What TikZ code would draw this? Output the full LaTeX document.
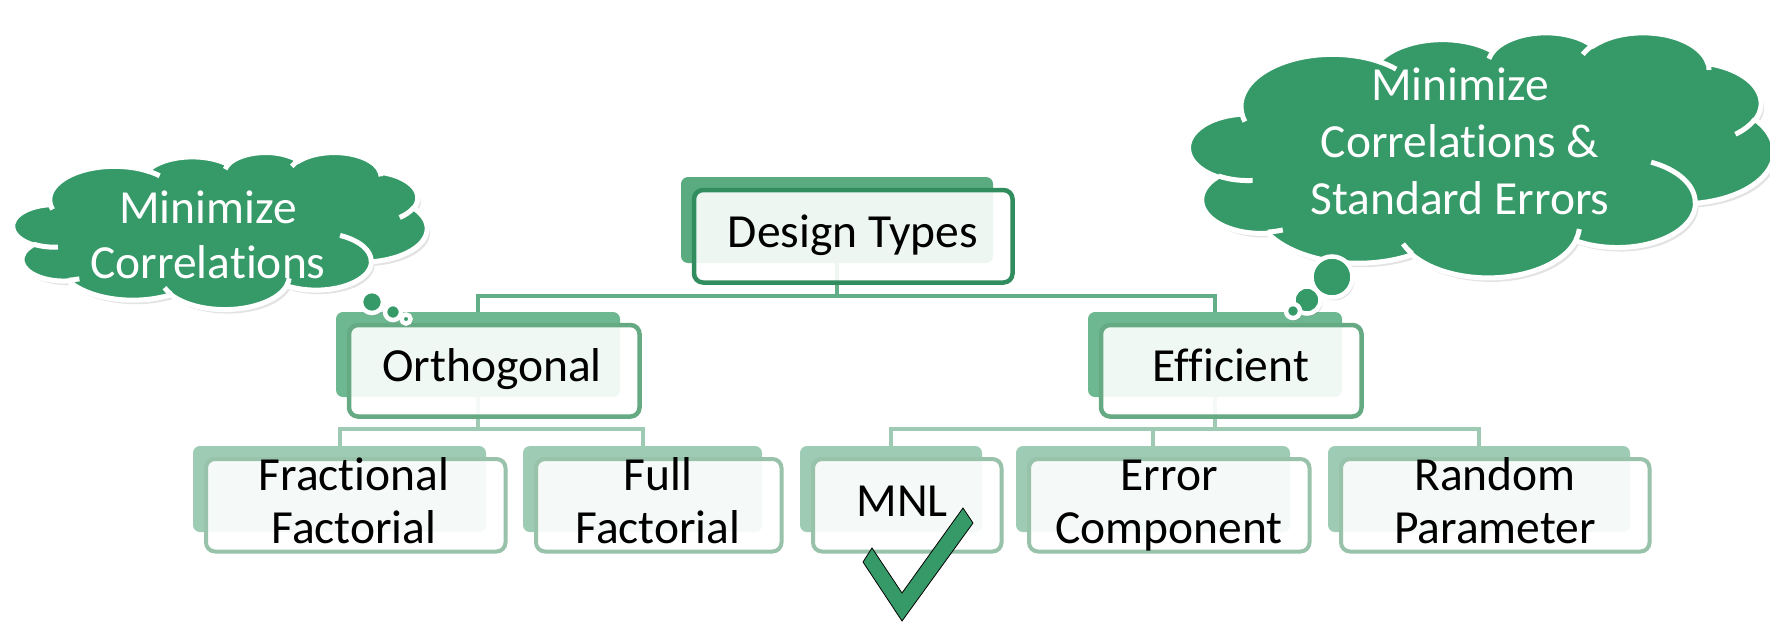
\documentclass[tikz,border=0pt]{standalone}
\usepackage{fontspec}
\setmainfont{Carlito}[Ligatures={NoCommon}]
\usetikzlibrary{shadows}
\definecolor{cgreen}{RGB}{53,154,104}
\definecolor{lback1}{RGB}{90,172,128}
\definecolor{lline1}{RGB}{50,141,94}
\definecolor{lback2}{RGB}{110,184,145}
\definecolor{lline2}{RGB}{102,170,132}
\definecolor{lback3}{RGB}{157,203,180}
\definecolor{lline3}{RGB}{152,194,170}
\definecolor{conna}{RGB}{98,174,134}
\definecolor{connb}{RGB}{158,201,178}
% elliptical arc with DrawingML (visual) angles
\newcommand\cloudarc[4]{arc[x radius=#1, y radius=#2,
  start angle={atan2((#1)*sin(#3),(#2)*cos(#3))},
  delta angle={atan2((#1)*sin((#3)+(#4)),(#2)*cos((#3)+(#4)))-atan2((#1)*sin(#3),(#2)*cos(#3))+360*round(((#4)-(atan2((#1)*sin((#3)+(#4)),(#2)*cos((#3)+(#4)))-atan2((#1)*sin(#3),(#2)*cos(#3))))/360)}]}
\newcommand\drawcloud[4]{%
\begin{scope}[shift={(#1,#2)}, xscale=#3/432, yscale=#4/432]
 \path[cloudbody] (39,143.70)
   \cloudarc{67.53}{91.90}{-190.4875}{123.7805}
   \cloudarc{53.33}{72.67}{-144.1024}{89.9452}
   \cloudarc{43.65}{59.45}{-145.8079}{99.7230}
   \cloudarc{48.57}{65.95}{-130.9861}{117.2417}
   \cloudarc{53.33}{72.73}{-78.7089}{109.0269}
   \cloudarc{67.75}{92.20}{-46.2673}{130.2690}
   \cloudarc{57.85}{78.67}{0.6250}{114.0333}
   \cloudarc{67.52}{92.15}{22.4516}{115.1726}
   \cloudarc{77.20}{105.43}{66.2426}{75.7110}
   \cloudarc{43.60}{59.18}{-274.9421}{146.7356}
   \cloudarc{43.45}{59.45}{-246.8285}{152.5189} -- cycle;
 \draw[cloudline]
   (46.93,261.77) \cloudarc{43.45}{59.45}{86.7420}{26.4295}
   (69.28,348.99) \cloudarc{43.60}{59.18}{73.6105}{11.4475}
   (164.78,390.90) \cloudarc{67.52}{92.15}{137.6242}{14.0811}
   (288.27,347.51) \cloudarc{67.52}{92.15}{6.4533}{15.9984}
   (341.29,229.54) \cloudarc{57.85}{78.67}{-70.2924}{70.9174}
   (417.98,153.54) \cloudarc{53.33}{72.73}{30.3180}{27.7515}
   (383.24,54.26) \cloudarc{48.57}{65.95}{-13.7443}{14.8589}
   (290.78,39.52) \cloudarc{48.57}{65.95}{-149.1815}{18.1954}
   (221.41,47.20) \cloudarc{43.65}{59.45}{-163.4943}{17.6864}
   (140.00,51.92) \cloudarc{67.53}{91.90}{-66.7070}{12.3194}
   (41.27,157.89) \cloudarc{67.53}{91.90}{157.6544}{11.8582};
\end{scope}}
\newcommand\backbox[6]{\node[back#6, minimum width={#4-#2}, minimum height={#5-#3}] (#1) at ({(#2+#4)/2},{(#3+#5)/2}) {};}
\newcommand\frontbox[6]{\node[front#6, minimum width={#4-#2+6.5}, minimum height={#5-#3+6.5}] (#1) at ({(#2+#4)/2+16.25},{(#3+#5)/2+16.25}) {};}
\begin{document}
\begin{tikzpicture}[x=1pt,y=-1pt,
  cloudbody/.style={fill=cgreen, draw=white, line width=5pt,
    drop shadow={opacity=0.22, shadow xshift=3pt, shadow yshift=-4pt}},
  cloudline/.style={draw=white, line width=5pt},
  bubble/.style={fill=cgreen, draw=white, line width=4.5pt,
    drop shadow={opacity=0.22, shadow xshift=2pt, shadow yshift=-3pt}},
  backa/.style={fill=lback1, rounded corners=7pt, inner sep=0pt, outer sep=0pt},
  backb/.style={fill=lback2, rounded corners=7pt, inner sep=0pt, outer sep=0pt},
  backc/.style={fill=lback3, rounded corners=7pt, inner sep=0pt, outer sep=0pt},
  fronta/.style={draw=lline1, line width=4.5pt, fill=white, fill opacity=0.9, rounded corners=9pt, inner sep=0pt, outer sep=0pt},
  frontb/.style={draw=lline2, line width=4.5pt, fill=white, fill opacity=0.9, rounded corners=9pt, inner sep=0pt, outer sep=0pt},
  frontc/.style={draw=lline3, line width=4pt, fill=white, fill opacity=0.9, rounded corners=9pt, inner sep=0pt, outer sep=0pt},
  conn1/.style={draw=conna, line width=4.5pt},
  conn2/.style={draw=connb, line width=4pt},
  txt/.style={font=\fontsize{47.5}{53}\selectfont, inner sep=0pt, align=center, text=black},
  ctxt/.style={font=\fontsize{47.5}{55}\selectfont, inner sep=0pt, align=center, text=white},
  checkmark/.style={fill=cgreen, draw=black, line width=0.8pt}]
\clip (0,0) rectangle (1770,622);
\fill[white] (0,0) rectangle (1770,622);
% back shapes
\backbox{dtb}{681}{177}{993}{263}{a}
\backbox{orb}{336}{312}{620}{397}{b}
\backbox{efb}{1088}{312}{1342}{397}{b}
\backbox{frb}{193}{446}{486}{532}{c}
\backbox{fub}{523}{446}{762}{532}{c}
\backbox{mnb}{800}{446}{982}{532}{c}
\backbox{erb}{1016}{446}{1290}{532}{c}
\backbox{rab}{1328}{446}{1630}{532}{c}
% connectors
\coordinate (busa) at (0,296);
\coordinate (busb) at (0,429);
\draw[conn1] (dtb.south) -- (dtb.south |- busa) -| (orb.north);
\draw[conn1] (dtb.south |- busa) -| (efb.north);
\draw[conn2] (orb.south) -- (orb.south |- busb) -| (frb.north);
\draw[conn2] (orb.south |- busb) -| (fub.north);
\draw[conn2] (efb.south) -- (efb.south |- busb) -| (mnb.north);
\draw[conn2] (efb.south |- busb) -| (erb.north);
\draw[conn2] (efb.south |- busb) -| (rab.north);
% front shapes
\frontbox{dt}{681}{177}{993}{263}{a}
\frontbox{or}{336}{312}{620}{397}{b}
\frontbox{ef}{1088}{312}{1342}{397}{b}
\frontbox{fr}{193}{446}{486}{532}{c}
\frontbox{fu}{523}{446}{762}{532}{c}
\frontbox{mn}{800}{446}{982}{532}{c}
\frontbox{er}{1016}{446}{1290}{532}{c}
\frontbox{ra}{1328}{446}{1630}{532}{c}
% texts (anchor base = last line's baseline)
\node[txt, anchor=base] (dtt) at (853,247) {Design Types};
\node[txt, anchor=base] (ort) at (492,381.5) {Orthogonal};
\node[txt, anchor=base] (eft) at (1231,381.5) {Efficient};
\node[txt, anchor=base] (frt) at (354,543) {Fractional\\Factorial};
\node[txt, anchor=base] (fut) at (658,543) {Full\\Factorial};
\node[txt, anchor=base] (mnt) at (902,516) {MNL};
\node[txt, anchor=base] (ert) at (1169,543) {Error\\Component};
\node[txt, anchor=base] (rat) at (1495,543) {Random\\Parameter};
% check mark
\draw[checkmark] (863,562) -- (902,621) -- (973,523) -- (963,508) -- (902,593) -- (872,548) -- cycle;
% left cloud
\drawcloud{13}{152}{414}{157}
\fill[bubble] (372,302) circle (11);
\fill[bubble] (393,312) circle (8);
\fill[bubble] (406,319) circle (4.5);
\node[ctxt, anchor=base] (lct) at (208,278) {Minimize\\Correlations};
% right cloud
\drawcloud{1189}{32}{585}{245}
\fill[bubble] (1332,277) circle (20.5);
\fill[bubble] (1307,300) circle (13.5);
\fill[bubble] (1293,311) circle (7);
\node[ctxt, anchor=base, font=\fontsize{47.5}{57}\selectfont] (rct) at (1460,214) {Minimize\\Correlations \&\\Standard Errors};
\end{tikzpicture}
\end{document}
